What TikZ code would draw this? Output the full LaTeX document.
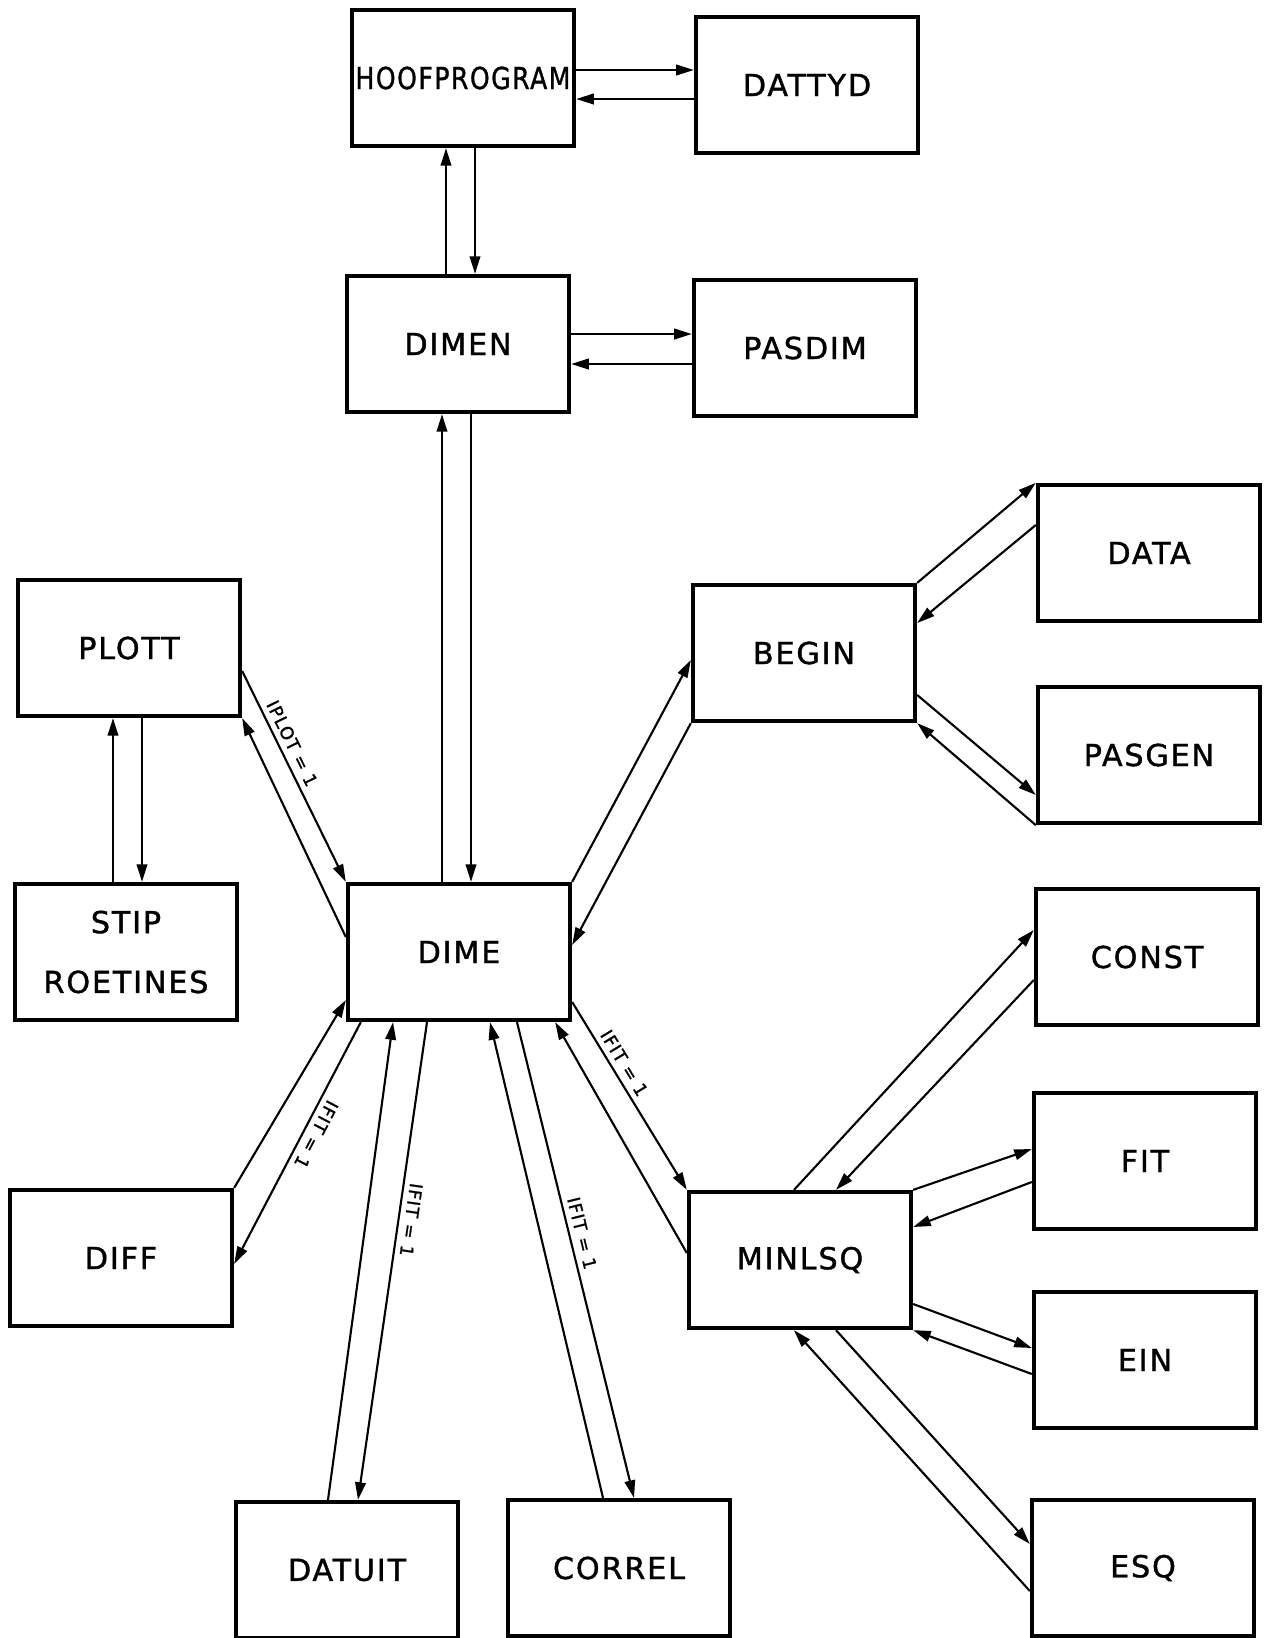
\documentclass[tikz,border=0pt]{standalone}
\usepackage{fontspec}
\setmainfont{DejaVu Sans}[LetterSpace=6.0, FakeBold=1.2]
\usepackage{graphicx}
\usepackage{tikz}
\usetikzlibrary{arrows.meta,calc}

\tikzset{
  box/.style={draw, line width=1.2pt, minimum width=2.22cm, minimum height=1.36cm,
    inner sep=0pt, align=center, font=\fontsize{8.6}{17}\selectfont},
  cond/.style={sloped, allow upside down, above, inner sep=1.5pt,
    font=\fontsize{5}{6}\selectfont},
}

\begin{document}
\begin{tikzpicture}[x=0.01cm, y=-0.01cm, line width=0.6pt,
  >={Triangle[length=5pt,width=3pt]}]
\useasboundingbox (0,0) rectangle (1264,1638);

%% Hoofprogram
\draw (463,78) node[box] (hoof) {\scalebox{0.83}[1]{HOOFPROGRAM}};
\draw (hoof) ++ (344,7) node[box] (dattyd) {DATTYD};
\path[draw, ->] ($(hoof.east)+(0,-8)$) -- ($(dattyd.west)+(0,-15)$);
\path[draw, ->] ($(dattyd.west)+(0,14)$) -- ($(hoof.east)+(0,21)$);
%% Dimen
\draw (hoof) ++ (-5,266) node[box] (dimen) {DIMEN};
\path[draw, ->] ($(dimen.north)+(-12,0)$) -- ($(hoof.south)+(-17,0)$);
\path[draw, ->] ($(hoof.south)+(12,0)$) -- ($(dimen.north)+(17,0)$);
\draw (dimen) ++ (347,4) node[box] (pasdim) {PASDIM};
\path[draw, ->] ($(dimen.east)+(0,-10)$) -- ($(pasdim.west)+(0,-14)$);
\path[draw, ->] ($(pasdim.west)+(0,16)$) -- ($(dimen.east)+(0,20)$);
%% Dime
\draw (dimen) ++ (1,608) node[box] (dime) {DIME};
\path[draw, ->] ($(dime.north)+(-17,0)$) -- ($(dimen.south)+(-16,0)$);
\path[draw, ->] ($(dimen.south)+(13,0)$) -- ($(dime.north)+(12,0)$);

%%%%%%%%%%%%%%%%%%%%%% Plott

\draw (129,648) node[box] (plott) {PLOTT};
\draw (plott) ++ (-3,304) node[box] (stip) {STIP\\ROETINES};
\path[draw, ->] ($(stip.north)+(-13,0)$) -- ($(plott.south)+(-16,0)$);
\path[draw, ->] ($(plott.south)+(13,0)$) -- ($(stip.north)+(16,0)$);
\path[draw, ->] ($(plott.east)+(0,23)$) -- node[cond, pos=0.37] {IPLOT = 1} (dime.north west);
\path[draw, ->] ($(dime.west)+(0,-15)$) -- (plott.south east);

%%%%%%%%%%%%%%%%%%%%%% Begin

\draw (804,653) node[box] (begin) {BEGIN};
\path[draw, ->] (dime.north east) -- ($(begin.west)+(0,7)$);
\path[draw, ->] (begin.south west) -- ($(dime.east)+(0,-7)$);
\draw (begin) ++ (345,-100) node[box] (data) {DATA};
\path[draw, ->] (begin.north east) -- (data.north west);
\path[draw, ->] ($(data.west)+(0,-28)$) -- ($(begin.east)+(0,-30)$);
\draw (data) ++ (0,202) node[box] (pasgen) {PASGEN};
\path[draw, ->] ($(begin.east)+(0,42)$) -- ($(pasgen.west)+(0,40)$);
\path[draw, ->] (pasgen.south west) -- (begin.south east);

%%%%%%%%%%%%%%%%%%%%%% Output of dime

\draw (121,1258) node[box] (diff) {DIFF};
\path[draw, ->] (diff.north east) -- ($(dime.west)+(0,48)$);
\path[draw, ->] ($(dime.south west)+(15,0)$) -- node[cond, pos=0.44] {IFIT = 1} ($(diff.east)+(0,6)$);
%% Datuit
\draw (347,1570) node[box] (datuit) {DATUIT};
\path[draw, ->] ($(datuit.north)+(-19,0)$) -- ($(dime.south)+(-66,0)$);
\path[draw, ->] ($(dime.south)+(-32,0)$) -- node[cond, pos=0.41] {IFIT = 1} ($(datuit.north)+(11,0)$);
%% Correl
\draw (datuit) ++ (272,-2) node[box] (correl) {CORREL};
\path[draw, ->] ($(correl.north)+(-16,0)$) -- ($(dime.south)+(31,0)$);
\path[draw, ->] ($(dime.south)+(58,0)$) -- node[cond, pos=0.45] {IFIT = 1} ($(correl.north)+(15,0)$);

%%%%%%%%%%%%%%%%%%%%%% Minlsq

\draw (800,1260) node[box] (minlsq) {MINLSQ};
\path[draw, ->] ($(dime.east)+(0,50)$) -- node[cond, pos=0.36] {IFIT = 1} (minlsq.north west);
\path[draw, ->] ($(minlsq.west)+(0,-7)$) -- ($(dime.south east)+(-17,0)$);
%% Const
\draw (1147,957) node[box] (const) {CONST};
\path[draw, ->] ($(minlsq.north)+(-6,0)$) -- ($(const.west)+(0,-27)$);
\path[draw, ->] ($(const.west)+(0,23)$) -- ($(minlsq.north)+(36,0)$);
%% Fit
\draw (const) ++ (-2,204) node[box] (fit) {FIT};
\path[draw, ->] (minlsq.north east) -- ($(fit.west)+(0,-12)$);
\path[draw, ->] ($(fit.west)+(0,21)$) -- ($(minlsq.east)+(0,-33)$);
%% Ein
\draw (fit) ++ (0,199) node[box] (ein) {EIN};
\path[draw, ->] ($(minlsq.east)+(0,44)$) -- ($(ein.west)+(0,-12)$);
\path[draw, ->] ($(ein.west)+(0,14)$) -- (minlsq.south east);
%% Esq
\draw (ein) ++ (-2,208) node[box] (esq) {ESQ};
\path[draw, ->] ($(minlsq.south)+(36,0)$) -- ($(esq.west)+(0,-24)$);
\path[draw, ->] ($(esq.west)+(0,23)$) -- ($(minlsq.south)+(-6,0)$);
\end{tikzpicture}
\end{document}
